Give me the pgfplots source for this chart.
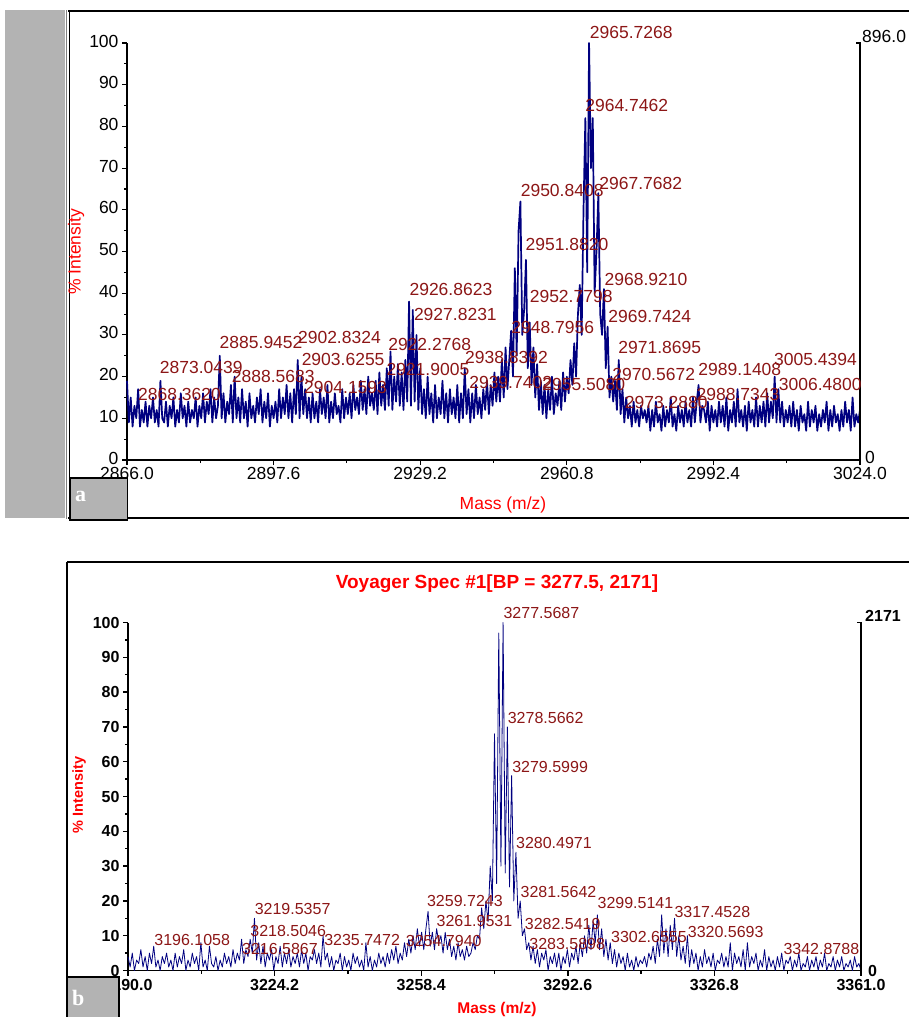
\documentclass[border=0pt]{standalone}
\usepackage{pgfplots}
\pgfplotsset{compat=1.18}
\usepackage{pgfplotstable}
\usepackage{fontspec}
\setmainfont{Liberation Sans}
\newfontfamily\seriffont{Liberation Serif}
\definecolor{navy}{RGB}{0,0,128}
\definecolor{lblred}{RGB}{140,22,22}
\definecolor{boxgray}{RGB}{179,179,179}
\definecolor{titlered}{RGB}{255,0,0}
\newcommand\fa{\fontsize{17.5}{19}\selectfont}
\newcommand\fbt{\fontsize{16}{18}\selectfont\bfseries}
\newcommand\fbl{\fontsize{16}{18}\selectfont}
\tikzset{lblA/.style={anchor=west,inner sep=0pt,text=lblred,font=\fa},
         lblB/.style={anchor=west,inner sep=0pt,text=lblred,font=\fbl}}
\newcommand\pkA[2]{\node[lblA] at (axis cs:#1,#2) {#1};}
\newcommand\pkB[2]{\node[lblB] at (axis cs:#1,#2) {#1};}

% panel a: intensity sampled every 0.4 m/z from 2866.0
\pgfplotstableread[row sep=\\]{y\\
19\\9\\15\\8\\13\\10\\17\\8\\12\\9\\14\\8\\13\\10\\15\\9\\12\\8\\19\\10\\
9\\14\\8\\13\\10\\15\\8\\12\\9\\16\\10\\13\\8\\14\\9\\12\\10\\15\\8\\13\\
10\\16\\9\\14\\11\\17\\9\\15\\10\\13\\25\\10\\16\\9\\14\\11\\18\\9\\20\\10\\
15\\9\\17\\10\\14\\8\\16\\10\\13\\9\\15\\11\\17\\9\\14\\10\\16\\8\\13\\10\\
14\\9\\17\\10\\15\\11\\18\\10\\16\\9\\17\\11\\24\\10\\20\\11\\17\\10\\15\\9\\
16\\10\\14\\9\\17\\11\\15\\10\\18\\9\\14\\10\\16\\11\\13\\9\\17\\10\\15\\11\\
16\\10\\18\\12\\15\\11\\19\\12\\17\\11\\20\\13\\16\\12\\19\\11\\21\\13\\18\\12\\
22\\13\\26\\12\\20\\14\\23\\13\\21\\12\\24\\14\\38\\13\\36\\14\\30\\12\\22\\11\\
17\\10\\20\\11\\16\\9\\18\\10\\15\\11\\19\\10\\16\\9\\17\\11\\15\\10\\18\\9\\
16\\10\\22\\11\\17\\9\\16\\10\\18\\11\\15\\10\\17\\12\\19\\11\\18\\13\\21\\14\\
20\\14\\24\\15\\27\\17\\24\\31\\20\\46\\25\\55\\62\\30\\36\\48\\22\\33\\18\\27\\
15\\23\\12\\19\\11\\18\\10\\17\\12\\20\\11\\16\\13\\19\\12\\21\\14\\20\\16\\24\\
18\\28\\20\\35\\42\\30\\60\\82\\45\\100\\70\\82\\40\\50\\64\\35\\30\\41\\22\\32\\
15\\20\\14\\19\\12\\24\\11\\17\\9\\15\\10\\13\\8\\14\\9\\12\\8\\13\\10\\12\\
9\\13\\7\\12\\8\\14\\9\\11\\7\\13\\8\\12\\9\\15\\8\\11\\7\\13\\9\\12\\
8\\14\\9\\12\\8\\15\\9\\14\\18\\9\\13\\12\\9\\14\\7\\13\\9\\12\\8\\14\\
9\\13\\8\\15\\7\\12\\9\\14\\8\\17\\9\\12\\8\\13\\7\\14\\9\\12\\8\\15\\
8\\13\\9\\14\\8\\16\\9\\14\\10\\20\\9\\17\\9\\14\\8\\12\\9\\13\\8\\14\\
8\\12\\7\\13\\9\\11\\7\\14\\8\\12\\9\\13\\7\\11\\8\\12\\9\\14\\7\\12\\
8\\13\\9\\11\\7\\12\\8\\14\\9\\12\\7\\15\\8\\11\\9\\12\\
}\dataA

% panel b: intensity sampled every 0.5 m/z from 3190.0
\pgfplotstableread[row sep=\\]{y\\
4\\1\\5\\0\\3\\2\\6\\1\\4\\0\\5\\2\\7\\1\\3\\0\\4\\2\\5\\1\\
3\\0\\5\\1\\4\\2\\6\\0\\3\\1\\5\\2\\4\\0\\8\\1\\3\\0\\7\\2\\
1\\4\\0\\3\\1\\5\\2\\4\\1\\6\\2\\5\\3\\9\\2\\6\\4\\9\\5\\15\\
3\\8\\2\\7\\1\\5\\3\\6\\0\\4\\2\\7\\1\\5\\2\\6\\1\\4\\2\\5\\
1\\6\\2\\5\\0\\4\\3\\6\\2\\5\\1\\10\\3\\5\\1\\4\\0\\3\\2\\5\\
0\\4\\1\\3\\0\\5\\2\\4\\1\\3\\0\\8\\1\\4\\0\\3\\1\\5\\2\\4\\
1\\5\\2\\6\\3\\7\\2\\5\\3\\8\\4\\9\\5\\10\\6\\12\\7\\11\\6\\12\\
17\\7\\11\\6\\12\\8\\10\\5\\11\\6\\9\\4\\7\\3\\8\\4\\6\\3\\7\\4\\
5\\8\\6\\10\\9\\18\\12\\20\\14\\30\\20\\68\\25\\97\\30\\100\\28\\70\\24\\56\\
20\\34\\15\\20\\10\\12\\6\\8\\3\\7\\2\\6\\1\\5\\3\\6\\0\\4\\2\\5\\
1\\5\\0\\4\\2\\6\\1\\5\\3\\7\\2\\8\\4\\10\\5\\13\\6\\14\\8\\16\\
6\\12\\4\\9\\3\\8\\2\\6\\1\\5\\2\\4\\0\\5\\1\\3\\0\\4\\1\\3\\
2\\4\\1\\5\\3\\7\\2\\9\\4\\16\\5\\12\\4\\13\\6\\15\\4\\10\\3\\7\\
2\\10\\1\\6\\2\\5\\0\\4\\1\\6\\2\\4\\1\\5\\0\\3\\2\\5\\1\\4\\
1\\8\\0\\5\\2\\4\\1\\6\\0\\8\\1\\4\\2\\5\\0\\3\\1\\6\\0\\4\\
1\\3\\0\\4\\1\\5\\0\\3\\2\\4\\0\\3\\1\\5\\0\\2\\1\\4\\0\\3\\
1\\4\\0\\3\\1\\5\\0\\2\\1\\4\\0\\3\\1\\4\\0\\2\\1\\3\\0\\4\\1\\2\\0\\
}\dataB

\begin{document}
\begin{tikzpicture}[x=1pt,y=1pt]
\useasboundingbox (0,0) rectangle (909,-1017);
% ---------- panel a frame ----------
\fill[boxgray] (5,-10) rectangle (65,-518);
\draw[line width=1pt,gray] (66.5,-10) -- (66.5,-519);
\draw[line width=1.5pt] (69.5,-10) -- (69.5,-519);
\draw[line width=1.5pt] (68,-11) -- (909,-11);
\draw[line width=1.5pt] (68,-518) -- (909,-518);

\begin{axis}[
  at={(127pt,-460pt)}, anchor=south west, scale only axis,
  width=733pt, height=417pt,
  xmin=2866, xmax=3024, ymin=0, ymax=100,
  axis x line*=bottom, axis y line*=left,
  axis line style={line width=1.3pt},
  tick style={line width=1.1pt, black},
  tick align=outside,
  major tick length=5pt, minor tick length=3pt,
  xtick={2866,2897.6,2929.2,2960.8,2992.4,3024},
  minor xtick={2881.8,2913.4,2945,2976.6,3008.2},
  ytick={0,10,...,100}, minor ytick={5,15,...,95},
  x tick label style={/pgf/number format/fixed,/pgf/number format/fixed zerofill,
     /pgf/number format/precision=1,/pgf/number format/1000 sep={}, yshift=1pt},
  y tick label style={yshift=2pt},
  /pgf/number format/assume math mode=true,
  tick label style={font=\fa, text=black},
  clip=false,
]
\addplot[navy, line width=1.7pt, line join=round, no markers]
  table[x expr={2866+0.4*\coordindex}, y=y] {\dataA};
\draw[line width=1.3pt] (rel axis cs:1,0) -- (rel axis cs:1,1) -- ([xshift=-4pt]rel axis cs:1,1);
\node[anchor=south west, font=\fa, inner sep=0pt] at ([xshift=2pt]rel axis cs:1,1) {896.0};
\node[anchor=west, font=\fa, inner sep=0pt] at ([xshift=5pt,yshift=3pt]rel axis cs:1,0) {0};
\pkA{2965.7268}{102.6}
\pkA{2964.7462}{84.9}
\pkA{2950.8408}{64.7}
\pkA{2967.7682}{66.4}
\pkA{2951.8820}{51.6}
\pkA{2968.9210}{43.2}
\pkA{2926.8623}{40.8}
\pkA{2952.7798}{39.3}
\pkA{2927.8231}{34.8}
\pkA{2969.7424}{34.3}
\pkA{2948.7956}{31.7}
\pkA{2885.9452}{28.1}
\pkA{2902.8324}{29.3}
\pkA{2922.2768}{27.6}
\pkA{2971.8695}{27.1}
\pkA{2938.8392}{24.5}
\pkA{2903.6255}{24.0}
\pkA{2873.0439}{22.1}
\pkA{2989.1408}{21.8}
\pkA{3005.4394}{24.2}
\pkA{2970.5672}{20.6}
\pkA{2888.5683}{20.1}
\pkA{2921.9005}{21.6}
\pkA{2939.7402}{18.7}
\pkA{2955.5080}{18.0}
\pkA{2868.3620}{15.8}
\pkA{2904.1593}{17.5}
\pkA{2973.2880}{13.7}
\pkA{2988.7343}{15.6}
\pkA{3006.4800}{18.0}
\end{axis}
\node[text=titlered, font=\fa] at (503,-505) {Mass (m/z)};
\node[text=titlered, font=\fa, rotate=90] at (76,-252) {\% Intensity};
\draw[fill=boxgray, line width=1.5pt] (70,-478) rectangle (127.5,-520);
\node[anchor=west, text=white, inner sep=0pt, font=\seriffont\bfseries\fontsize{22}{24}\selectfont] at (75,-496) {a};

% ---------- panel b ----------
\draw[line width=1.5pt] (67,-562) -- (909,-562);
\draw[line width=1.5pt] (67,-562) -- (67,-1017);
\node[text=titlered, font=\fontsize{19}{21}\selectfont\bfseries] at (497,-584) {Voyager Spec \#1[BP = 3277.5, 2171]};

\begin{axis}[
  at={(128pt,-970.5pt)}, anchor=south west, scale only axis,
  width=733pt, height=348pt,
  xmin=3190, xmax=3361, ymin=0, ymax=100,
  axis x line*=bottom, axis y line*=left,
  axis line style={line width=1.8pt},
  tick style={line width=1.4pt, black},
  tick align=outside,
  major tick length=5pt, minor tick length=3pt,
  xtick={3190,3224.2,3258.4,3292.6,3326.8,3361},
  minor xtick={3207.1,3241.3,3275.5,3309.7,3343.9},
  ytick={0,10,...,100}, minor ytick={5,15,...,95},
  x tick label style={/pgf/number format/fixed,/pgf/number format/fixed zerofill,
     /pgf/number format/precision=1,/pgf/number format/1000 sep={}},
  /pgf/number format/assume math mode=true,
  tick label style={font=\fbt, text=black},
  clip=false,
]
\addplot[navy, line width=0.8pt, line join=round, no markers]
  table[x expr={3190+0.5*\coordindex}, y=y] {\dataB};
\draw[line width=1.8pt] (rel axis cs:1,0) -- (rel axis cs:1,1) -- ([xshift=-4pt]rel axis cs:1,1);
\node[anchor=west, font=\fbt, inner sep=0pt] at ([xshift=4pt,yshift=7pt]rel axis cs:1,1) {2171};
\node[anchor=west, font=\fbt, inner sep=0pt] at ([xshift=7pt]rel axis cs:1,0) {0};
\pkB{3277.5687}{102.6}
\pkB{3278.5662}{72.6}
\pkB{3279.5999}{58.5}
\pkB{3280.4971}{36.6}
\pkB{3281.5642}{22.5}
\pkB{3259.7243}{19.9}
\pkB{3299.5141}{19.3}
\pkB{3219.5357}{17.6}
\pkB{3317.4528}{16.7}
\pkB{3261.9531}{14.1}
\pkB{3282.5419}{13.3}
\pkB{3218.5046}{11.5}
\pkB{3320.5693}{11.0}
\pkB{3302.6555}{9.5}
\pkB{3196.1058}{8.9}
\pkB{3235.7472}{8.9}
\pkB{3254.7940}{8.6}
\pkB{3283.5898}{7.5}
\pkB{3342.8788}{6.3}
\pkB{3216.5867}{6.1}
\end{axis}
\node[text=titlered, font=\fontsize{15.5}{17}\selectfont\bfseries] at (497,-1009) {Mass (m/z)};
\node[text=titlered, font=\fontsize{14.5}{16}\selectfont\bfseries, rotate=90] at (79,-795) {\% Intensity};
\draw[fill=boxgray, line width=1.5pt] (67,-977) rectangle (119,-1019);
\node[anchor=west, text=white, inner sep=0pt, font=\seriffont\bfseries\fontsize{22}{24}\selectfont] at (72,-998) {b};
\end{tikzpicture}
\end{document}
